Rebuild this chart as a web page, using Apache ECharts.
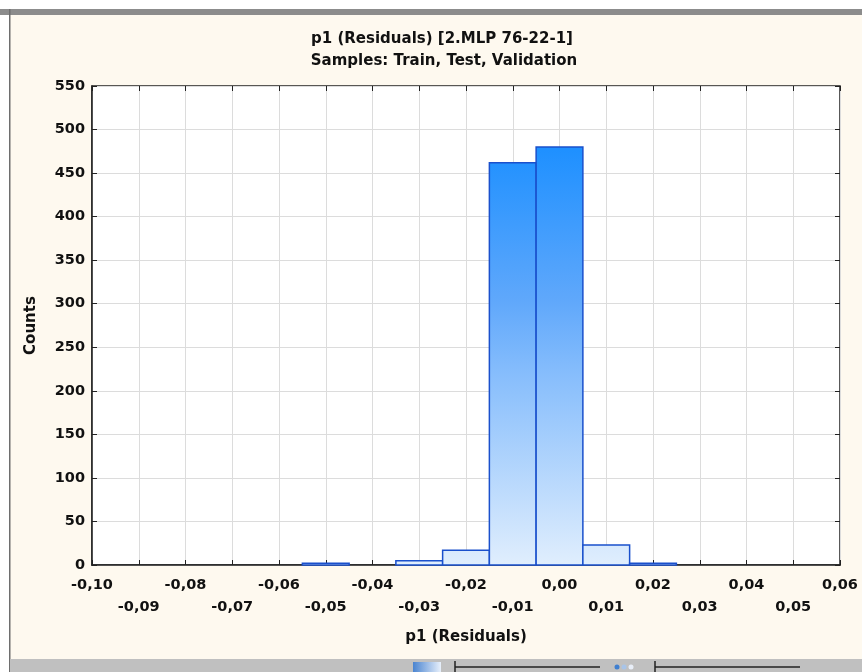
<!DOCTYPE html>
<html>
<head>
<meta charset="utf-8">
<script src="https://cdn.jsdelivr.net/npm/echarts@6/dist/echarts.min.js"></script>
<style>
html,body{margin:0;padding:0;background:#fff;}
#chart{width:862px;height:672px;}
</style>
</head>
<body>
<div id="chart"></div>
<script>
// histogram bins (centre of each 0.01 wide bin) and counts
var binCenters = [-0.05, -0.03, -0.02, -0.01, 0.00, 0.01, 0.02];
var binCounts = [2, 5, 17, 462, 480, 23, 2];
var binWidth = 0.01;
var xTicks = [-0.10, 0.06, 0.01]; // min, max, step
var yTicks = [0, 550, 50];

var titleText = 'p1 (Residuals) [2.MLP 76-22-1]';
var subText = 'Samples: Train, Test, Validation';
var xName = 'p1 (Residuals)';
var yName = 'Counts';

var FONT = '"DejaVu Sans", sans-serif';
var plotTop = 86, plotBottom = 565;

function fmtX(v){
	var k = Math.round(v * 100);
	var s = (k / 100).toFixed(2).replace('.', ',');
	// odd hundredths go on a second row
	return (Math.abs(k) % 2 === 1) ? '\n' + s : s;
}

function drawChart(){
	var myChart = echarts.init(document.getElementById('chart'));
	var grad = new echarts.graphic.LinearGradient(0, plotTop, 0, plotBottom, [
		{offset: 0, color: '#1786ff'},
		{offset: 0.13, color: '#1e90ff'},
		{offset: 0.45, color: '#60a8fb'},
		{offset: 0.6, color: '#86bdfc'},
		{offset: 1, color: '#e0eefd'}
	], true);

	var data = [];
	for (var i = 0; i < binCenters.length; i++) {
		data.push([binCenters[i], binCounts[i]]);
	}

	var option = {
		animation: false,
		backgroundColor: '#fff',
		graphic: [
			{type: 'rect', z: -10, shape: {x: 10, y: 15, width: 852, height: 644}, style: {fill: '#fef9ef'}},
			{type: 'rect', z: -10, shape: {x: 0, y: 9, width: 862, height: 6}, style: {fill: '#8c8c8c'}},
			{type: 'rect', z: -10, shape: {x: 9, y: 9, width: 1.5, height: 663}, style: {fill: '#6e6e6e'}},
			{type: 'rect', z: -10, shape: {x: 10, y: 659, width: 852, height: 13}, style: {fill: '#c0c0c0'}},
			{type: 'rect', z: -9, shape: {x: 413, y: 662, width: 28, height: 10}, style: {fill: new echarts.graphic.LinearGradient(0, 0, 1, 0, [{offset: 0, color: '#4a84d0'}, {offset: 1, color: '#e8f0fb'}])}},
			{type: 'line', z: -9, shape: {x1: 455, y1: 667, x2: 600, y2: 667}, style: {stroke: '#222', lineWidth: 1.5}},
			{type: 'line', z: -9, shape: {x1: 455, y1: 661, x2: 455, y2: 672}, style: {stroke: '#222', lineWidth: 1.5}},
			{type: 'line', z: -9, shape: {x1: 655, y1: 667, x2: 800, y2: 667}, style: {stroke: '#222', lineWidth: 1.5}},
			{type: 'line', z: -9, shape: {x1: 655, y1: 661, x2: 655, y2: 672}, style: {stroke: '#222', lineWidth: 1.5}},
			{type: 'circle', z: -9, shape: {cx: 617, cy: 667, r: 2.5}, style: {fill: '#3f7fd0'}},
			{type: 'circle', z: -9, shape: {cx: 624, cy: 667, r: 2.5}, style: {fill: '#a8c4e8'}},
			{type: 'circle', z: -9, shape: {cx: 631, cy: 667, r: 2.5}, style: {fill: '#e8eef8'}},
			{type: 'text', x: 442, y: 32, style: {text: titleText, font: 'bold 15px ' + FONT, fill: '#111', textAlign: 'center'}},
			{type: 'text', x: 444, y: 54, style: {text: subText, font: 'bold 15px ' + FONT, fill: '#111', textAlign: 'center'}}
		],
		grid: {
			left: 92, right: 22, top: plotTop, bottom: 672 - plotBottom,
			show: true, borderColor: '#222', borderWidth: 1.5, backgroundColor: '#fff'
		},
		xAxis: [{
			type: 'value',
			min: xTicks[0], max: xTicks[1], interval: xTicks[2],
			name: xName, nameLocation: 'middle', nameGap: 65,
			nameTextStyle: {fontFamily: FONT, fontWeight: 'bold', fontSize: 15, color: '#111'},
			axisLine: {show: true, onZero: false, lineStyle: {color: '#222', width: 1.5}},
			axisTick: {show: true, inside: true, length: 5, lineStyle: {color: '#222'}},
			axisLabel: {formatter: fmtX, margin: 9, fontFamily: FONT, fontWeight: 'bold', fontSize: 14.5, color: '#111', lineHeight: 22, showMinLabel: true, showMaxLabel: true, hideOverlap: false},
			splitLine: {show: true, lineStyle: {color: '#dcdcdc', width: 1}}
		}, {
			type: 'value', position: 'top',
			min: xTicks[0], max: xTicks[1], interval: xTicks[2],
			axisLine: {show: false, onZero: false},
			axisTick: {show: true, inside: true, length: 5, lineStyle: {color: '#222'}},
			axisLabel: {show: false},
			splitLine: {show: false}
		}],
		yAxis: [{
			type: 'value',
			min: yTicks[0], max: yTicks[1], interval: yTicks[2],
			name: yName, nameLocation: 'middle', nameGap: 53, nameRotate: 90,
			nameTextStyle: {fontFamily: FONT, fontWeight: 'bold', fontSize: 15, color: '#111'},
			axisLine: {show: true, onZero: false, lineStyle: {color: '#222', width: 1.5}},
			axisTick: {show: true, inside: true, length: 5, lineStyle: {color: '#222'}},
			axisLabel: {margin: 7, fontFamily: FONT, fontWeight: 'bold', fontSize: 14.5, color: '#111'},
			splitLine: {show: true, lineStyle: {color: '#dcdcdc', width: 1}}
		}, {
			type: 'value', position: 'right',
			min: yTicks[0], max: yTicks[1], interval: yTicks[2],
			axisLine: {show: false, onZero: false},
			axisTick: {show: true, inside: true, length: 5, lineStyle: {color: '#222'}},
			axisLabel: {show: false},
			splitLine: {show: false}
		}],
		series: [{
			type: 'custom',
			xAxisIndex: 0, yAxisIndex: 0,
			data: data,
			renderItem: function(params, api){
				var c = api.value(0), n = api.value(1);
				if (!n) return;
				var p0 = api.coord([c - binWidth / 2, n]);
				var p1 = api.coord([c + binWidth / 2, 0]);
				return {
					type: 'rect',
					shape: {x: p0[0], y: p0[1], width: p1[0] - p0[0], height: p1[1] - p0[1]},
					style: {fill: grad, stroke: '#1a50cc', lineWidth: 1.5}
				};
			}
		}]
	};
	myChart.setOption(option);
}
window.addEventListener('load', drawChart);
</script>
</body>
</html>
